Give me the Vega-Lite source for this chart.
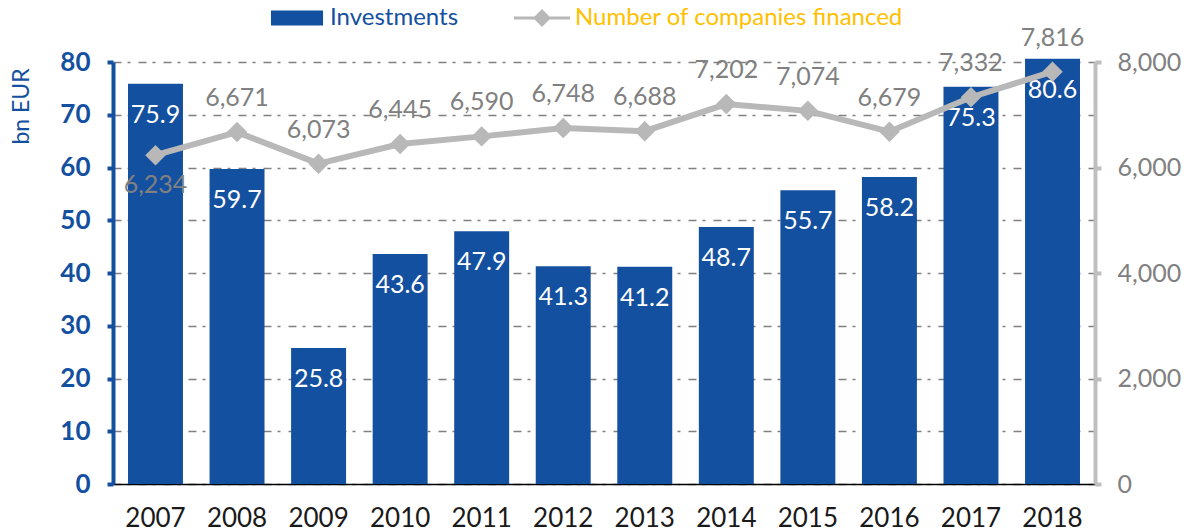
{
  "$schema": "https://vega.github.io/schema/vega-lite/v6.json",
  "width": 982,
  "height": 422,
  "autosize": {"type": "none"},
  "padding": {"left": 113, "top": 62, "right": 93, "bottom": 48},
  "background": "white",
  "config": {
    "view": {"stroke": null},
    "font": "Lato",
    "axis": {"labelFont": "Lato", "titleFont": "Lato"},
    "axisY": {"titleFontWeight": "normal"},
    "legend": {"labelFont": "Lato", "labelLimit": 500}
  },
  "data": {
    "values": [
      {"year": "2007", "investments": 75.9, "companies": 6234},
      {"year": "2008", "investments": 59.7, "companies": 6671},
      {"year": "2009", "investments": 25.8, "companies": 6073},
      {"year": "2010", "investments": 43.6, "companies": 6445},
      {"year": "2011", "investments": 47.9, "companies": 6590},
      {"year": "2012", "investments": 41.3, "companies": 6748},
      {"year": "2013", "investments": 41.2, "companies": 6688},
      {"year": "2014", "investments": 48.7, "companies": 7202},
      {"year": "2015", "investments": 55.7, "companies": 7074},
      {"year": "2016", "investments": 58.2, "companies": 6679},
      {"year": "2017", "investments": 75.3, "companies": 7332},
      {"year": "2018", "investments": 80.6, "companies": 7816}
    ]
  },
  "encoding": {
    "x": {
      "field": "year",
      "type": "nominal",
      "sort": null,
      "scale": {"paddingInner": 0.326, "paddingOuter": 0.184},
      "axis": {
        "title": null,
        "labelAngle": 0,
        "labelFontSize": 26,
        "labelColor": "#1a1a1a",
        "labelPadding": 21,
        "ticks": false,
        "domainColor": "#000000",
        "domainWidth": 1.5,
        "grid": false
      }
    }
  },
  "layer": [
    {
      "encoding": {
        "y": {
          "field": "investments",
          "type": "quantitative",
          "scale": {"domain": [0, 80], "nice": false},
          "axis": {
            "orient": "left",
            "values": [0, 10, 20, 30, 40, 50, 60, 70, 80],
            "title": "bn EUR",
            "titleColor": "#1450A0",
            "titleFontSize": 23,
            "titleFontWeight": "normal",
            "titleAngle": -90,
            "titleX": -92,
            "titleY": 44,
            "titleAlign": "center",
            "titleBaseline": "middle",
            "labelFontSize": 26,
            "labelFontWeight": "bold",
            "labelColor": "#1450A0",
            "labelPadding": 17,
            "domainColor": "#1450A0",
            "domainWidth": 4,
            "tickColor": "#1450A0",
            "tickWidth": 4,
            "tickSize": 6,
            "grid": true,
            "gridColor": "#808080",
            "gridWidth": 1.7,
            "gridDash": [8, 6, 3, 8]
          }
        }
      },
      "layer": [
        {
          "mark": {"type": "bar", "color": "#1450A0"},
          "encoding": {
            "color": {
              "datum": "Investments",
              "type": "nominal",
              "scale": {
                "domain": ["Investments", "Number of companies financed"],
                "range": ["#1450A0", "#B8B8B8"]
              },
              "legend": {
                "title": null,
                "orient": "none",
                "legendX": 156,
                "legendY": -72,
                "direction": "horizontal",
                "padding": 0,
                "symbolSize": 3136,
                "symbolStrokeWidth": 0,
                "labelFontSize": 24,
                "labelOffset": 5,
                "labelLimit": 500,
                "columnPadding": 55,
                "encode": {
                  "symbols": {
                    "update": {
                      "shape": {"signal": "datum.value === 'Investments' ? 'M-0.93,-0.27H0.93V0.27H-0.93Z' : 'M-1,-0.055H1V0.055H-1Z M0,-0.32L0.32,0L0,0.32L-0.32,0Z'"},
                      "fill": {"signal": "datum.value === 'Investments' ? '#1450A0' : '#B8B8B8'"},
                      "stroke": {"value": "transparent"},
                      "opacity": {"value": 1}
                    }
                  },
                  "labels": {
                    "update": {
                      "fill": {"signal": "datum.value === 'Investments' ? '#1450A0' : '#FFC000'"}
                    }
                  }
                }
              }
            }
          }
        },
        {
          "mark": {"type": "text", "color": "#FFFFFF", "fontSize": 25, "baseline": "alphabetic", "dy": 39},
          "encoding": {
            "text": {"field": "investments", "type": "quantitative", "format": ".1f"}
          }
        }
      ]
    },
    {
      "encoding": {
        "y": {
          "field": "companies",
          "type": "quantitative",
          "scale": {"domain": [0, 8000], "nice": false},
          "axis": {
            "orient": "right",
            "values": [0, 2000, 4000, 6000, 8000],
            "format": ",.0f",
            "title": null,
            "labelFontSize": 25,
            "labelColor": "#808080",
            "labelPadding": 16,
            "domainColor": "#BFBFBF",
            "domainWidth": 4,
            "tickColor": "#BFBFBF",
            "tickWidth": 4,
            "tickSize": 6,
            "grid": false
          }
        }
      },
      "layer": [
        {
          "mark": {"type": "line", "color": "#B8B8B8", "strokeWidth": 6}
        },
        {
          "mark": {"type": "point", "shape": "diamond", "filled": true, "color": "#B8B8B8", "size": 420, "opacity": 1}
        },
        {
          "transform": [{"filter": "datum.year !== '2007'"}],
          "mark": {"type": "text", "color": "#808080", "fontSize": 25, "baseline": "alphabetic", "dy": -26},
          "encoding": {
            "text": {"field": "companies", "type": "quantitative", "format": ",.0f"}
          }
        },
        {
          "transform": [{"filter": "datum.year === '2007'"}],
          "mark": {"type": "text", "color": "#808080", "fontSize": 25, "baseline": "alphabetic", "dy": 38},
          "encoding": {
            "text": {"field": "companies", "type": "quantitative", "format": ",.0f"}
          }
        }
      ]
    }
  ],
  "resolve": {"scale": {"y": "independent", "color": "shared"}}
}
